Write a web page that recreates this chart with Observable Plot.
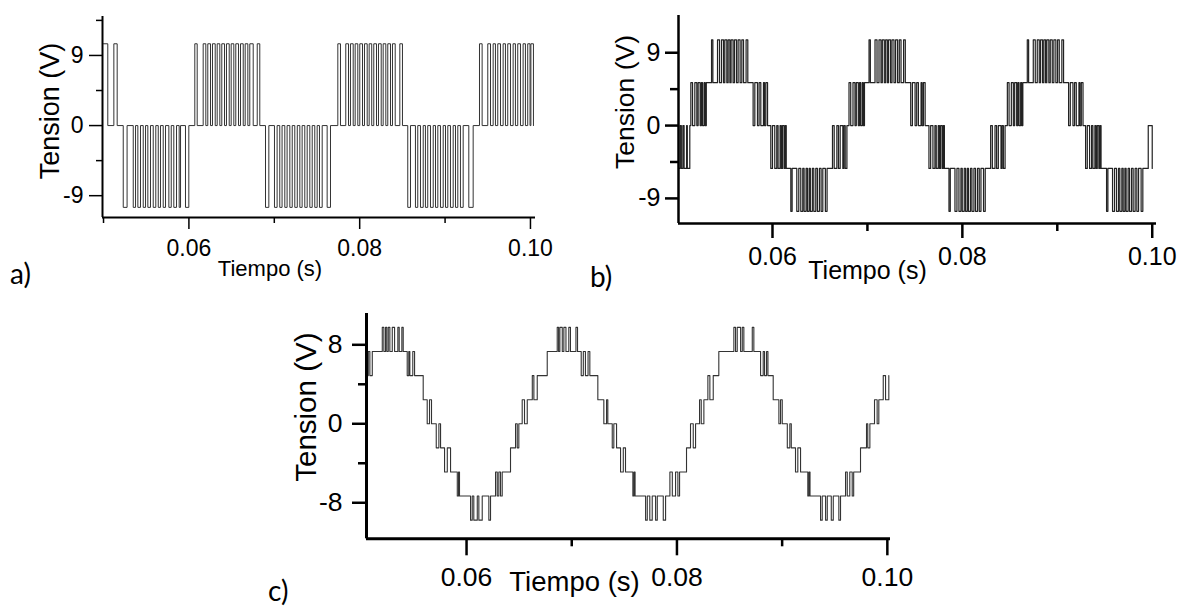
<!DOCTYPE html>
<html><head><meta charset="utf-8">
<script src="https://cdn.jsdelivr.net/npm/d3@7"></script>
<script src="https://cdn.jsdelivr.net/npm/@observablehq/plot@0.6"></script>
<style>
html,body{margin:0;padding:0;background:#fff;}
#fig{position:relative;width:1184px;height:615px;overflow:hidden;background:#fff;}
.panel{position:absolute;}
.panel svg{max-width:none;}
.tag{position:absolute;font-family:Lato,"Open Sans",sans-serif;font-size:28px;color:#000;line-height:1;}
</style></head><body><div id="fig"></div>
<script>
// ---------------- data (time in ms, voltage in V) ----------------
const xLabel = "Tiempo (s)";
const yLabel = "Tension (V)";
const xMajorTicks = [60, 80, 100];
const aXMinor = [50, 70, 90];
const bcXMinor = [70, 90];
const abYTicks = [9, 0, -9];
const aYMinor = [13.5, 4.5, -4.5];
const bYMinor = [4.5, -4.5];
const cYTicks = [8, 0, -8];
const cYMinor = [4, -4];

// panel a: 3-level PWM, pulse [on, off] pairs
const aPeak = 10.5;
const aPosPulses = [
  50.00,50.50, 51.21,51.60,
  60.69,60.97, 61.67,61.98, 62.21,62.53, 62.76,63.08, 63.31,63.62, 63.85,64.17, 64.40,64.72, 64.95,65.26, 65.49,65.81, 66.04,66.36, 66.59,66.90, 67.13,67.53, 68.00,68.30,
  77.44,77.75, 78.37,78.69, 78.92,79.24, 79.47,79.78, 80.01,80.33, 80.56,80.88, 81.11,81.41, 81.65,81.97, 82.20,82.52, 82.75,83.06, 83.29,83.61, 83.84,84.16, 84.70,85.01,
  94.03,94.34, 95.00,95.32, 95.63,95.90, 96.17,96.49, 96.80,97.07, 97.34,97.66, 97.97,98.24, 98.51,98.83, 99.14,99.41, 99.68,99.95, 100.05,100.35
];
const aNegPulses = [
  52.31,52.76, 53.48,53.75, 54.02,54.33, 54.65,54.92, 55.19,55.50, 55.82,56.12, 56.41,56.67, 56.99,57.26, 57.65,57.93, 58.23,58.55, 58.86,59.02, 59.60,59.99,
  68.97,69.36, 70.02,70.33, 70.64,70.91, 71.23,71.50, 71.82,72.10, 72.40,72.69, 72.99,73.26, 73.57,73.85, 74.16,74.44, 74.74,75.02, 75.29,75.61, 76.19,76.58,
  85.63,85.95, 86.53,86.80, 87.12,87.44, 87.70,87.97, 88.29,88.61, 88.88,89.15, 89.46,89.78, 90.05,90.32, 90.63,90.95, 91.22,91.49, 91.80,92.12, 92.78,93.29
];

// panel b: 5-level waveform, [time, level after switching]
const bEvents = [
  [50.14,-5.3],[50.27,0],[50.40,-5.3],[50.56,0],[50.69,-5.3],[50.95,0],[51.03,-5.3],[51.29,0],
  [51.40,5.3],[51.58,0],[51.82,5.3],[52.03,0],[52.17,5.3],[52.38,0],[52.51,5.3],[52.63,0],[52.80,5.3],[52.91,0],[53.03,5.3],
  [53.58,10.6],[53.72,5.3],[54.21,10.6],[54.42,5.3],[54.63,10.6],[54.84,5.3],[54.98,10.6],[55.19,5.3],[55.33,10.6],[55.51,5.3],[55.64,10.6],[55.85,5.3],[56.00,10.6],[56.21,5.3],[56.38,10.6],[56.59,5.3],[56.77,10.6],[56.95,5.3],[57.22,10.6],[57.40,5.3],
  [57.96,0],[58.14,5.3],[58.42,0],[58.59,5.3],[58.77,0],[59.05,5.3],[59.16,0],[59.30,5.3],[59.48,0],
  [59.82,-5.3],[60.00,0],[60.24,-5.3],[60.45,0],[60.59,-5.3],[60.80,0],[60.93,-5.3],[61.05,0],[61.22,-5.3],[61.33,0],[61.45,-5.3],
  [61.93,-10.6],[62.07,-5.3],[62.56,-10.6],[62.77,-5.3],[62.98,-10.6],[63.19,-5.3],[63.33,-10.6],[63.54,-5.3],[63.68,-10.6],[63.86,-5.3],[63.99,-10.6],[64.20,-5.3],[64.35,-10.6],[64.56,-5.3],[64.73,-10.6],[64.94,-5.3],[65.12,-10.6],[65.30,-5.3],[65.57,-10.6],[65.75,-5.3],
  [66.32,0],[66.50,-5.3],[66.78,0],[66.95,-5.3],[67.13,0],[67.41,-5.3],[67.52,0],[67.66,-5.3],[67.84,0],
  [68.06,5.3],[68.24,0],[68.48,5.3],[68.69,0],[68.83,5.3],[69.04,0],[69.17,5.3],[69.29,0],[69.46,5.3],[69.57,0],[69.69,5.3],
  [70.17,10.6],[70.31,5.3],[70.80,10.6],[71.01,5.3],[71.22,10.6],[71.43,5.3],[71.57,10.6],[71.78,5.3],[71.92,10.6],[72.10,5.3],[72.23,10.6],[72.44,5.3],[72.59,10.6],[72.80,5.3],[72.97,10.6],[73.18,5.3],[73.36,10.6],[73.54,5.3],[73.81,10.6],[73.99,5.3],
  [74.56,0],[74.74,5.3],[75.02,0],[75.19,5.3],[75.37,0],[75.65,5.3],[75.76,0],[75.90,5.3],[76.08,0],
  [76.48,-5.3],[76.66,0],[76.90,-5.3],[77.11,0],[77.25,-5.3],[77.46,0],[77.59,-5.3],[77.71,0],[77.88,-5.3],[77.99,0],[78.11,-5.3],
  [78.59,-10.6],[78.73,-5.3],[79.22,-10.6],[79.43,-5.3],[79.64,-10.6],[79.85,-5.3],[79.99,-10.6],[80.20,-5.3],[80.34,-10.6],[80.52,-5.3],[80.65,-10.6],[80.86,-5.3],[81.01,-10.6],[81.22,-5.3],[81.39,-10.6],[81.60,-5.3],[81.78,-10.6],[81.96,-5.3],[82.23,-10.6],[82.41,-5.3],
  [82.98,0],[83.16,-5.3],[83.44,0],[83.61,-5.3],[83.79,0],[84.07,-5.3],[84.18,0],[84.32,-5.3],[84.50,0],
  [84.74,5.3],[84.92,0],[85.16,5.3],[85.37,0],[85.51,5.3],[85.72,0],[85.85,5.3],[85.97,0],[86.14,5.3],[86.25,0],[86.37,5.3],
  [86.84,10.6],[86.98,5.3],[87.47,10.6],[87.68,5.3],[87.89,10.6],[88.10,5.3],[88.24,10.6],[88.45,5.3],[88.59,10.6],[88.77,5.3],[88.90,10.6],[89.11,5.3],[89.26,10.6],[89.47,5.3],[89.64,10.6],[89.85,5.3],[90.03,10.6],[90.21,5.3],[90.48,10.6],[90.66,5.3],
  [91.19,0],[91.37,5.3],[91.65,0],[91.82,5.3],[92.00,0],[92.28,5.3],[92.39,0],[92.53,5.3],[92.71,0],
  [92.98,-5.3],[93.16,0],[93.40,-5.3],[93.61,0],[93.75,-5.3],[93.96,0],[94.09,-5.3],[94.21,0],[94.38,-5.3],[94.49,0],[94.61,-5.3],
  [95.19,-10.6],[95.33,-5.3],[95.82,-10.6],[96.03,-5.3],[96.24,-10.6],[96.45,-5.3],[96.59,-10.6],[96.80,-5.3],[96.94,-10.6],[97.12,-5.3],[97.25,-10.6],[97.46,-5.3],[97.61,-10.6],[97.82,-5.3],[97.99,-10.6],[98.20,-5.3],[98.38,-10.6],[98.56,-5.3],[98.83,-10.6],[99.01,-5.3],
  [99.58,0],[100.00,-5.3]
];

// panel c: 9-level staircase, [time, level after switching]
const cEvents = [
  [50.54,4.88],[50.66,7.32],[50.81,4.88],[51.04,7.32],
  [51.99,9.76],[52.14,7.32],[52.30,9.76],[52.42,7.32],[52.56,9.76],[52.71,7.32],[52.94,9.76],[53.16,7.32],[53.47,9.76],[53.60,7.32],[53.85,9.76],[53.98,7.32],
  [54.36,4.88],[54.51,7.32],[54.61,4.88],[54.89,7.32],[55.06,4.88],
  [55.88,2.44],
  [56.26,0],[56.48,2.44],[56.67,0],
  [57.12,-2.44],[57.37,0],[57.53,-2.44],
  [57.91,-4.88],[58.17,-2.44],[58.48,-4.88],
  [59.12,-7.32],[59.24,-4.88],[59.33,-7.32],
  [60.38,-9.76],[60.54,-7.32],[60.69,-9.76],[61.02,-7.32],[61.17,-9.76],[61.49,-7.32],[62.12,-9.76],[62.28,-7.32],
  [62.76,-4.88],[62.92,-7.32],[63.07,-4.88],[63.23,-7.32],[63.39,-4.88],
  [64.18,-2.44],
  [64.66,0],[64.82,-2.44],[64.97,0],
  [65.29,2.44],[65.51,0],[65.77,2.44],
  [66.25,4.88],[66.40,2.44],[66.72,4.88],
  [67.67,7.32],
  [68.62,9.76],[68.75,7.32],[68.87,9.76],[69.10,7.32],[69.25,9.76],[69.45,7.32],[69.72,9.76],[69.88,7.32],[70.40,9.76],[70.55,7.32],
  [70.90,4.88],[71.10,7.32],[71.30,4.88],[71.55,7.32],[71.72,4.88],
  [72.48,2.44],
  [73.05,0],[73.31,2.44],[73.43,0],
  [73.85,-2.44],[74.00,0],[74.26,-2.44],
  [74.64,-4.88],[74.90,-2.44],[75.11,-4.88],
  [75.81,-7.32],[75.92,-4.88],[76.02,-7.32],
  [77.02,-9.76],[77.18,-7.32],[77.42,-9.76],[77.65,-7.32],[77.97,-9.76],[78.13,-7.32],[78.70,-9.76],[78.92,-7.32],
  [79.33,-4.88],[79.56,-7.32],[79.87,-4.88],[80.09,-7.32],[80.25,-4.88],
  [80.91,-2.44],
  [81.29,0],[81.55,-2.44],[81.77,0],
  [82.15,2.44],[82.31,0],[82.56,2.44],
  [82.94,4.88],[83.13,2.44],[83.45,4.88],
  [83.98,7.32],
  [85.41,9.76],[85.57,7.32],[85.73,9.76],[86.05,7.32],[86.21,9.76],[86.36,7.32],[87.16,9.76],[87.31,7.32],
  [87.95,4.88],[88.20,7.32],[88.33,4.88],[88.52,7.32],[88.65,4.88],
  [89.15,2.44],
  [89.69,0],[89.85,2.44],[90.01,0],
  [90.49,-2.44],[90.73,0],[90.87,-2.44],
  [91.27,-4.88],[91.49,-2.44],[91.75,-4.88],
  [92.44,-7.32],[92.55,-4.88],[92.65,-7.32],
  [93.65,-9.76],[93.81,-7.32],[94.13,-9.76],[94.29,-7.32],[94.67,-9.76],[94.86,-7.32],[95.39,-9.76],[95.55,-7.32],
  [96.03,-4.88],[96.19,-7.32],[96.43,-4.88],[96.66,-7.32],[96.80,-4.88],
  [97.45,-2.44],
  [98.02,0],[98.14,-2.44],[98.34,0],
  [98.78,2.44],[99.03,0],[99.19,2.44],
  [99.61,4.88],[99.83,2.44],[100.14,4.88]
];

// ---------------- build tables ----------------
const aData = [];
for (let i = 0; i < aPosPulses.length; i += 2) aData.push({t: aPosPulses[i], v: aPeak}, {t: aPosPulses[i + 1], v: 0});
for (let i = 0; i < aNegPulses.length; i += 2) aData.push({t: aNegPulses[i], v: -aPeak}, {t: aNegPulses[i + 1], v: 0});
aData.sort((p, q) => p.t - q.t);
const bData = bEvents.map(([t, v]) => ({t, v}));
const cData = cEvents.map(([t, v]) => ({t, v}));

const FONT = "'Liberation Sans', Arial, Helvetica, sans-serif";
const fmtX = d => (d / 1000).toFixed(2);

function panel(o) {
  return Plot.plot({
    width: o.width, height: o.height,
    marginLeft: o.ml, marginRight: o.mr, marginTop: o.mt, marginBottom: o.mb,
    x: {domain: o.xDomain},
    y: {domain: o.yDomain},
    style: {background: "transparent", color: "#000", fontFamily: FONT, overflow: "visible"},
    marks: [
      Plot.line(o.data, {x: "t", y: "v", curve: "step-after", stroke: o.lineColor, strokeWidth: o.lineWidth}),
      Plot.ruleX([o.xDomain[0]], {stroke: "#000", strokeWidth: o.axisWidth}),
      Plot.ruleY([o.yDomain[0]], {stroke: "#000", strokeWidth: o.axisWidth}),
      Plot.axisX({ticks: xMajorTicks, tickSize: o.xTick, tickPadding: o.xPad, tickFormat: fmtX, strokeWidth: o.tickWidth, fontSize: o.tickFont, fontFamily: FONT, label: null}),
      Plot.axisX({ticks: o.xMinor, tickSize: o.xTickMinor, tickFormat: () => "", strokeWidth: o.tickWidth, label: null}),
      Plot.axisY({ticks: o.yMajor, tickSize: o.yTick, tickPadding: o.yPad, tickFormat: d => String(d), strokeWidth: o.tickWidth, fontSize: o.tickFont, fontFamily: FONT, label: null}),
      Plot.axisY({ticks: o.yMinor, tickSize: o.yTickMinor, tickFormat: () => "", strokeWidth: o.tickWidth, label: null}),
      Plot.text([yLabel], {text: d => d, frameAnchor: "left", textAnchor: "middle", lineAnchor: "middle", rotate: -90, dx: o.yLabDx, dy: o.yLabDy, fontSize: o.yLabFont, fontFamily: FONT}),
      Plot.text([xLabel], {text: d => d, frameAnchor: "bottom", textAnchor: "middle", lineAnchor: "middle", dx: o.xLabDx, dy: o.xLabDy, fontSize: o.xLabFont, fontFamily: FONT})
    ]
  });
}

const fig = document.getElementById("fig");
function place(el, left, top) {
  const d = document.createElement("div");
  d.className = "panel"; d.style.left = left + "px"; d.style.top = top + "px";
  d.appendChild(el); fig.appendChild(d);
}
function tag(txt, left, top) {
  const d = document.createElement("div");
  d.className = "tag"; d.textContent = txt; d.style.left = left + "px"; d.style.top = top + "px";
  fig.appendChild(d);
}

place(panel({
  data: aData, width: 580, height: 290, ml: 102, mr: 45, mt: 16, mb: 73,
  xDomain: [49.88, 100.59], yDomain: [-11.8, 14.0],
  xMinor: aXMinor, yMajor: abYTicks, yMinor: aYMinor,
  xTick: 12, xTickMinor: 6, yTick: 13, yTickMinor: 6, xPad: 10, yPad: 6,
  tickWidth: 1.5, axisWidth: 2, tickFont: 23, lineColor: "#333", lineWidth: 1,
  yLabDx: -52, yLabDy: -6, yLabFont: 27, xLabDx: -49, xLabDy: 51, xLabFont: 22
}), 0, 0);

place(panel({
  data: bData, width: 604, height: 300, ml: 98, mr: 28, mt: 15, mb: 77,
  xDomain: [50.1, 100.45], yDomain: [-12.1, 13.6],
  xMinor: bcXMinor, yMajor: abYTicks, yMinor: bYMinor,
  xTick: 15, xTickMinor: 8, yTick: 13, yTickMinor: 8, xPad: 9, yPad: 5,
  tickWidth: 2.5, axisWidth: 2.5, tickFont: 25, lineColor: "#222", lineWidth: 1.2,
  yLabDx: -53, yLabDy: -17.5, yLabFont: 26.5, xLabDx: -50, xLabDy: 47.5, xLabFont: 25
}), 580, 0);

place(panel({
  data: cData, width: 700, height: 325, ml: 126, mr: 50, mt: 23, mb: 76.7,
  xDomain: [50.49, 100.3], yDomain: [-11.65, 11.17],
  xMinor: bcXMinor, yMajor: cYTicks, yMinor: cYMinor,
  xTick: 17, xTickMinor: 8, yTick: 14, yTickMinor: 8, xPad: 11.7, yPad: 10,
  tickWidth: 2.5, axisWidth: 3, tickFont: 26.5, lineColor: "#333", lineWidth: 1.1,
  yLabDx: -60, yLabDy: -19, yLabFont: 29.5, xLabDx: -54, xLabDy: 43, xLabFont: 27.5
}), 240, 290);

tag("a)", 10, 259);
tag("b)", 590, 262);
tag("c)", 268, 576);
</script></body></html>
